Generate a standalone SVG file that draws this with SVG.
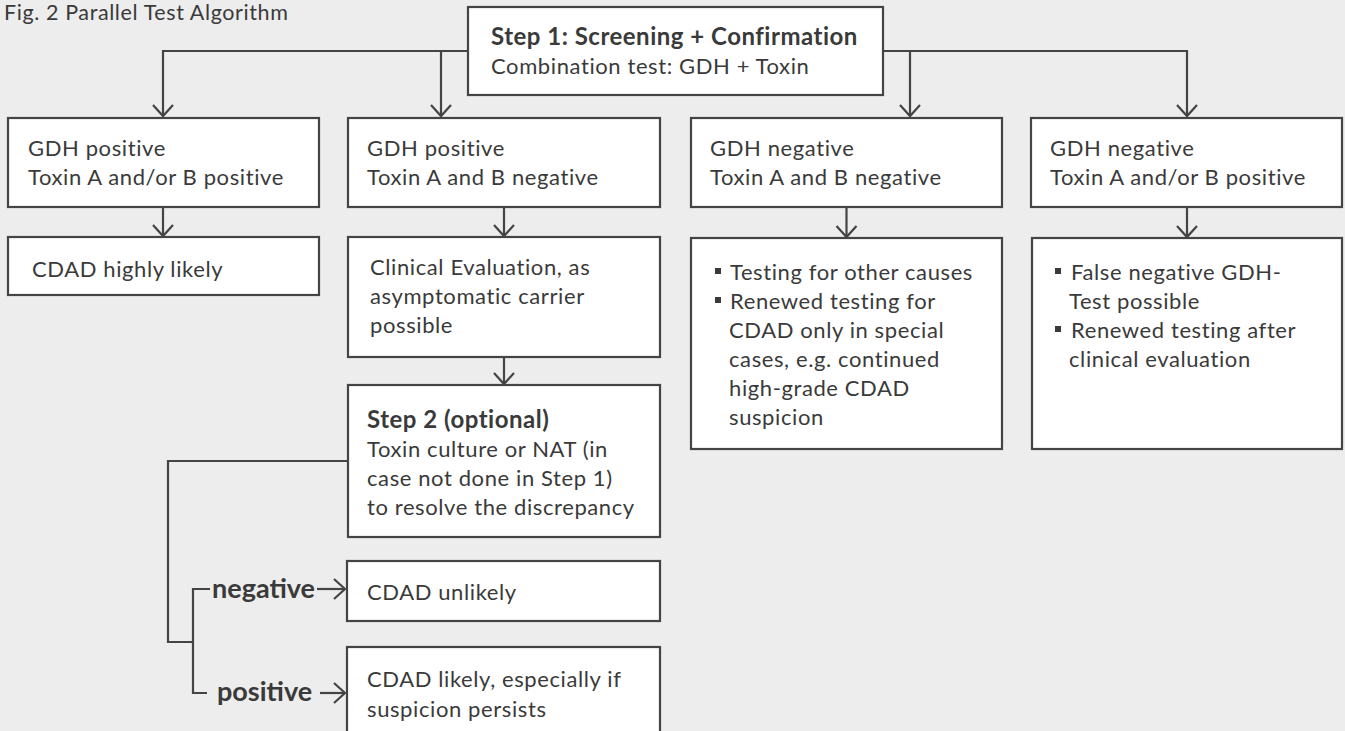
<svg xmlns="http://www.w3.org/2000/svg" width="1345" height="731" viewBox="0 0 1345 731">
<style>
.bg{fill:#ededed}
.box{fill:#fff;stroke:#444;stroke-width:2.2}
.t{font-family:Lato,"Noto Sans",sans-serif;font-size:22px;letter-spacing:0.6px;fill:#3a3a3a}
.b{font-weight:bold;font-size:24px;letter-spacing:0.5px}
.lbl{font-family:Lato,"Noto Sans",sans-serif;font-weight:bold;font-size:27px;fill:#3a3a3a}
.title{font-family:Lato,"Noto Sans",sans-serif;font-size:21.5px;letter-spacing:0.6px;fill:#3a3a3a}
.c{fill:none;stroke:#444;stroke-width:2.2}
.arr{marker-end:url(#ah)}
.bul{fill:#3a3a3a}
</style>
<defs>
<marker id="ah" markerUnits="userSpaceOnUse" viewBox="-14 -12 16 24" refX="0" refY="0" markerWidth="16" markerHeight="24" orient="auto">
<path d="M-11,-10 L0,0 L-11,10" fill="none" stroke="#444" stroke-width="2.2"/>
</marker>
</defs>
<rect class="bg" x="0" y="0" width="1345" height="731"/>
<text class="title" x="4" y="20">Fig. 2 Parallel Test Algorithm</text>

<g id="connectors">
<path class="c arr" d="M468,51 H163 V116"/>
<path class="c arr" d="M441,51 V116"/>
<path class="c arr" d="M883,51 H1187 V116"/>
<path class="c arr" d="M910,51 V116"/>
<path class="c arr" d="M163,207 V236"/>
<path class="c arr" d="M504,207 V236"/>
<path class="c arr" d="M846.5,207 V237"/>
<path class="c arr" d="M1187,207 V237"/>
<path class="c arr" d="M504,357 V384"/>
<path class="c" d="M348,461 H168 V642 H193"/>
<path class="c" d="M210,589 H193 V693 H207"/>
<path class="c arr" d="M317,589 H345"/>
<path class="c arr" d="M320,693 H345"/>
</g>

<g id="step1">
<rect class="box" x="468" y="7" width="415" height="88"/>
<text class="t b" x="491" y="45">Step 1: Screening + Confirmation</text>
<text class="t" x="491" y="74">Combination test: GDH + Toxin</text>
</g>

<g id="r1c1">
<rect class="box" x="8" y="118" width="311" height="89"/>
<text class="t" x="28" y="156">GDH positive</text>
<text class="t" x="28" y="185">Toxin A and/or B positive</text>
</g>
<g id="r1c2">
<rect class="box" x="348" y="118" width="312" height="89"/>
<text class="t" x="367" y="156">GDH positive</text>
<text class="t" x="367" y="185">Toxin A and B negative</text>
</g>
<g id="r1c3">
<rect class="box" x="691" y="118" width="311" height="89"/>
<text class="t" x="710" y="156">GDH negative</text>
<text class="t" x="710" y="185">Toxin A and B negative</text>
</g>
<g id="r1c4">
<rect class="box" x="1031" y="118" width="311" height="89"/>
<text class="t" x="1050" y="156">GDH negative</text>
<text class="t" x="1050" y="185">Toxin A and/or B positive</text>
</g>

<g id="r2c1">
<rect class="box" x="8" y="237" width="311" height="58"/>
<text class="t" x="32" y="277">CDAD highly likely</text>
</g>
<g id="r2c2">
<rect class="box" x="348" y="237" width="312" height="120"/>
<text class="t" x="370" y="275">Clinical Evaluation, as</text>
<text class="t" x="370" y="304">asymptomatic carrier</text>
<text class="t" x="370" y="333">possible</text>
</g>
<g id="r2c3">
<rect class="box" x="691" y="238" width="311" height="211"/>
<rect class="bul" x="715" y="268" width="6" height="6"/>
<text class="t" x="730" y="280">Testing for other causes</text>
<rect class="bul" x="715" y="297" width="6" height="6"/>
<text class="t" x="730" y="309">Renewed testing for</text>
<text class="t" x="729" y="338">CDAD only in special</text>
<text class="t" x="729" y="367">cases, e.g. continued</text>
<text class="t" x="729" y="396">high-grade CDAD</text>
<text class="t" x="729" y="425">suspicion</text>
</g>
<g id="r2c4">
<rect class="box" x="1032" y="238" width="310" height="211"/>
<rect class="bul" x="1055" y="268" width="6" height="6"/>
<text class="t" x="1071" y="280">False negative GDH-</text>
<text class="t" x="1069" y="309">Test possible</text>
<rect class="bul" x="1055" y="326" width="6" height="6"/>
<text class="t" x="1071" y="338">Renewed testing after</text>
<text class="t" x="1069" y="367">clinical evaluation</text>
</g>

<g id="step2">
<rect class="box" x="348" y="385" width="312" height="152"/>
<text class="t b" x="367" y="428">Step 2 (optional)</text>
<text class="t" x="367" y="457">Toxin culture or NAT (in</text>
<text class="t" x="367" y="486">case not done in Step 1)</text>
<text class="t" x="367" y="515">to resolve the discrepancy</text>
</g>

<g id="labels">
<text class="lbl" x="212" y="598">negative</text>
<text class="lbl" x="217" y="701">positive</text>
</g>

<g id="unlikely">
<rect class="box" x="347" y="561" width="313" height="60"/>
<text class="t" x="367" y="600">CDAD unlikely</text>
</g>
<g id="likely">
<rect class="box" x="347" y="647" width="313" height="100"/>
<text class="t" x="367" y="687">CDAD likely, especially if</text>
<text class="t" x="367" y="717">suspicion persists</text>
</g>
</svg>
